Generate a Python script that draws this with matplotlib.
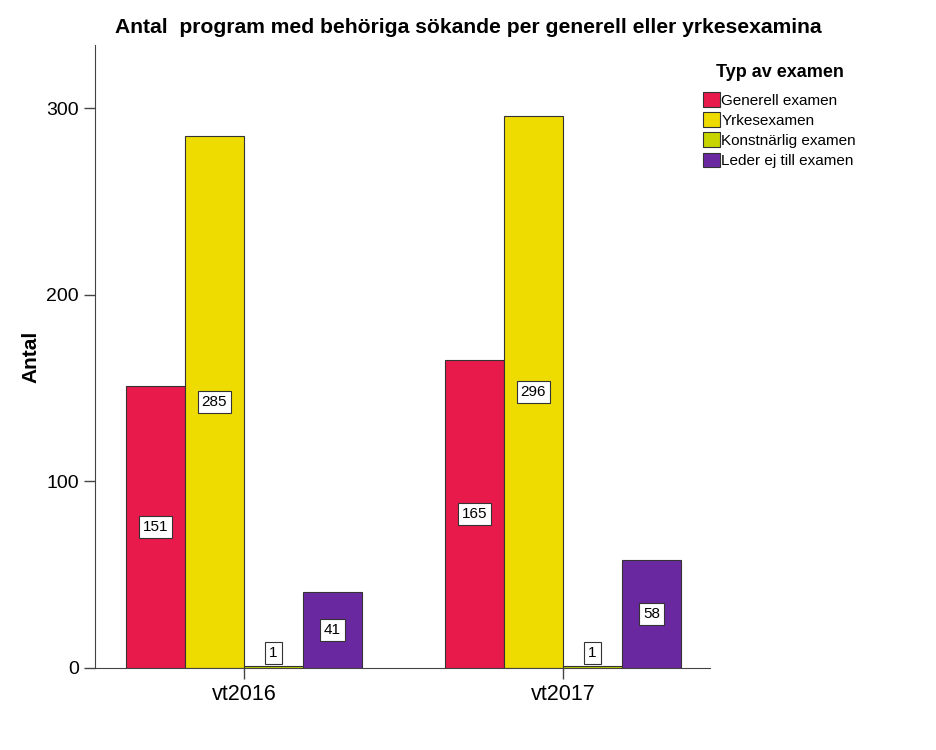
import matplotlib
matplotlib.use("Agg")
import matplotlib.pyplot as plt
import numpy as np

plt.rcParams['font.family'] = ['Liberation Sans', 'DejaVu Sans']

categories = ['vt2016', 'vt2017']
series = ['Generell examen', 'Yrkesexamen', 'Konstnärlig examen', 'Leder ej till examen']
values = {
    'Generell examen': [151, 165],
    'Yrkesexamen': [285, 296],
    'Konstnärlig examen': [1, 1],
    'Leder ej till examen': [41, 58],
}
colors = ['#E8194B', '#EEDC00', '#C8D400', '#6A28A0']

fig = plt.figure(figsize=(9.37, 7.5), dpi=100)
ax = fig.add_axes([95/937, 82/750, 615/937, 623/750])

x = np.arange(len(categories))
w = 0.185
handles = []
for i, s in enumerate(series):
    pos = x + (i - 1.5) * w
    b = ax.bar(pos, values[s], width=w, color=colors[i], edgecolor='#333333', linewidth=0.8, label=s)
    handles.append(b)
    for px, v in zip(pos, values[s]):
        yy = max(v / 2, 8)
        ax.text(px, yy, str(v), ha='center', va='center', fontsize=11,
                bbox=dict(boxstyle='square,pad=0.25', facecolor='white', edgecolor='#333333', linewidth=0.8))

ax.set_xlim(-0.467, 1.461)
ax.set_ylim(0, 334)
ax.set_yticks([0, 100, 200, 300])
ax.set_xticks(x)
ax.set_xticklabels(categories)
ax.tick_params(axis='y', labelsize=14, length=8, color='#444444', width=1)
ax.tick_params(axis='x', labelsize=15.5, length=8, color='#444444', width=1)
for sp in ['top', 'right']:
    ax.spines[sp].set_visible(False)
for sp in ['left', 'bottom']:
    ax.spines[sp].set_color('#444444')
ax.set_ylabel('Antal', fontsize=15, fontweight='bold', labelpad=4)
fig.text(0.5, 0.963, 'Antal  program med behöriga sökande per generell eller yrkesexamina',
         ha='center', va='center', fontsize=15.2, fontweight='bold')

leg = fig.legend(handles=handles, labels=series, title='Typ av examen', loc='upper left',
                 bbox_to_anchor=(697/937, 1 - 58/750), frameon=False, fontsize=11,
                 title_fontproperties={'size': 13, 'weight': 'bold'},
                 handlelength=1.1, handleheight=1.1, handletextpad=0.1, labelspacing=0.3,
                 borderaxespad=0)
leg._legend_box.align = 'center'
leg._legend_box.sep = 8

fig.savefig('out.png', dpi=100)
